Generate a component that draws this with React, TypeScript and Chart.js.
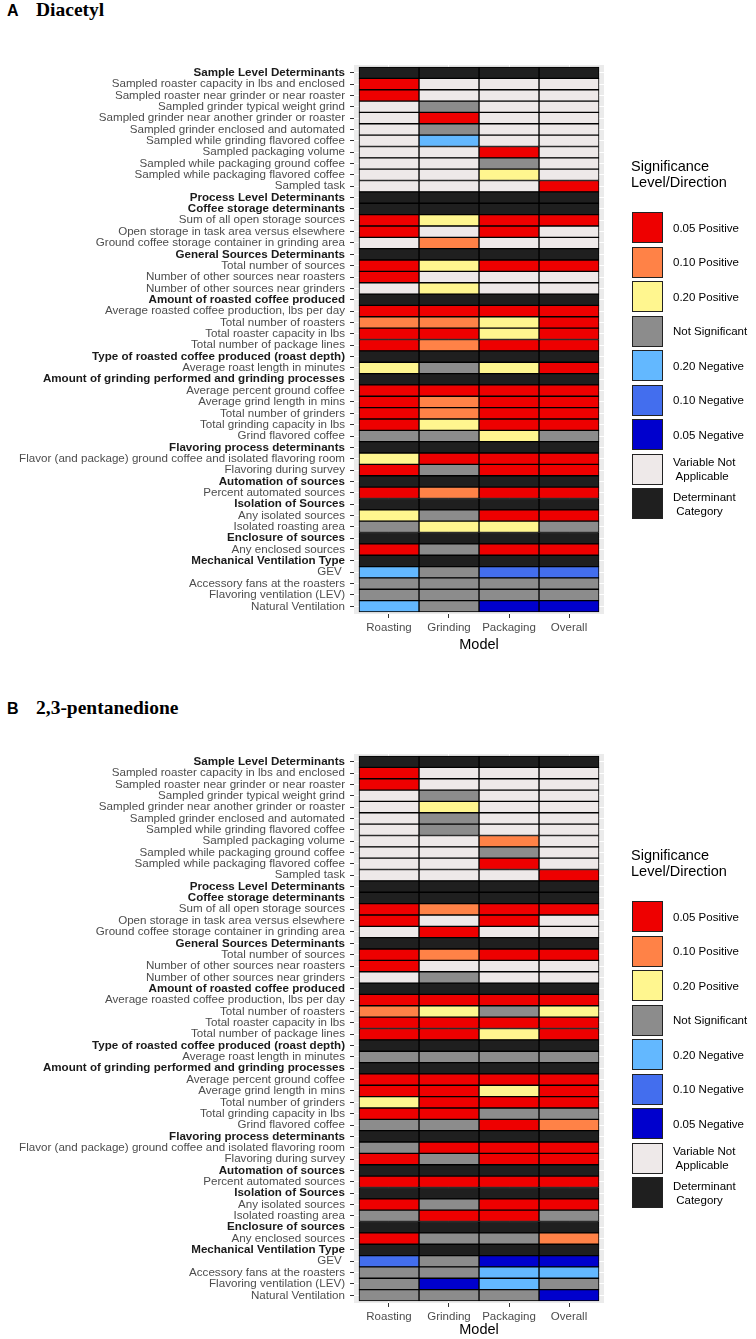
import React, { useEffect, useRef } from "react";
import { Chart, registerables } from "chart.js";

Chart.register(...registerables);

const columns = ["Roasting", "Grinding", "Packaging", "Overall"];

const rowLabels = [
  "Sample Level Determinants",
  "Sampled roaster capacity in lbs and enclosed",
  "Sampled roaster near grinder or near roaster",
  "Sampled grinder typical weight grind",
  "Sampled grinder near another grinder or roaster",
  "Sampled grinder enclosed and automated",
  "Sampled while grinding flavored coffee",
  "Sampled packaging volume",
  "Sampled while packaging ground coffee",
  "Sampled while packaging flavored coffee",
  "Sampled task",
  "Process Level Determinants",
  "Coffee storage determinants",
  "Sum of all open storage sources",
  "Open storage in task area versus elsewhere",
  "Ground coffee storage container in grinding area",
  "General Sources Determinants",
  "Total number of sources",
  "Number of other sources near roasters",
  "Number of other sources near grinders",
  "Amount of roasted coffee produced",
  "Average roasted coffee production, lbs per day",
  "Total number of roasters",
  "Total roaster capacity in lbs",
  "Total number of package lines",
  "Type of roasted coffee produced (roast depth)",
  "Average roast length in minutes",
  "Amount of grinding performed and grinding processes",
  "Average percent ground coffee",
  "Average grind length in mins",
  "Total number of grinders",
  "Total grinding capacity in lbs",
  "Grind flavored coffee",
  "Flavoring process determinants",
  "Flavor (and package) ground coffee and isolated flavoring room",
  "Flavoring during survey",
  "Automation of sources",
  "Percent automated sources",
  "Isolation of Sources",
  "Any isolated sources",
  "Isolated roasting area",
  "Enclosure of sources",
  "Any enclosed sources",
  "Mechanical Ventilation Type",
  "GEV ",
  "Accessory fans at the roasters",
  "Flavoring ventilation (LEV)",
  "Natural Ventilation",
];

// Codes: R=0.05 Pos, O=0.10 Pos, Y=0.20 Pos, G=Not Sig, L=0.20 Neg, M=0.10 Neg, B=0.05 Neg, W=Not applicable, K=Category
const diacetylRoasting = "KRRWWWWWWWWKKRRWKRRWKRORRKYKRRRRGKYRKRKYGKRKLGGL".split("");
const diacetylGrinding = "KWWGRGLWWWWKKYWOKYWYKROROKGKROOYGKRGKOKGYKGKGGGG".split("");
const diacetylPackaging = "KWWWWWWRGYWKKRRWKRWWKRYYRKYKRRRRYKRRKRKRYKRKMGGB".split("");
const diacetylOverall = "KWWWWWWWWWRKKRWWKRWWKRRRRKRKRRRRGKRRKRKRGKRKMGGB".split("");

const pentanedioneRoasting = "KRRWWWWWWWWKKRRWKRRWKRORRKGKRRYRGKGRKRKRGKRKMGGG".split("");
const pentanedioneGrinding = "KWWGYGGWWWWKKOWRKOWGKRYRRKGKRRRRGKRGKRKGRKGKGGBG".split("");
const pentanedionePackaging = "KWWWWWWOGRWKKRRWKRWWKRGRYKGKRYRGRKRRKRKRRKGKBLLG".split("");
const pentanedioneOverall = "KWWWWWWWWWRKKRWWKRWWKRYRRKGKRRRGOKRRKRKRGKOKBLGB".split("");

const levelCodes = ["R", "O", "Y", "G", "L", "M", "B", "W", "K"];
const levelLabels = [
  "0.05 Positive",
  "0.10 Positive",
  "0.20 Positive",
  "Not Significant",
  "0.20 Negative",
  "0.10 Negative",
  "0.05 Negative",
  "Variable Not\n Applicable",
  "Determinant\n Category",
];
const levelColors = [
  "#EE0000",
  "#FF8247",
  "#FFF68F",
  "#8C8C8C",
  "#63B8FF",
  "#436EEE",
  "#0000CD",
  "#EEE9E9",
  "#1F1F1F",
];

const SANS = "'Liberation Sans', Arial, Helvetica, sans-serif";
const SERIF = "'Liberation Serif', 'Times New Roman', serif";

const colorFor = (code: string) => levelColors[levelCodes.indexOf(code)];

const panelBg = {
  id: "panelBg",
  beforeDraw(chart: any) {
    const { ctx, chartArea } = chart;
    if (!chartArea) return;
    ctx.save();
    ctx.fillStyle = "#EBEBEB";
    ctx.fillRect(chartArea.left, chartArea.top, chartArea.right - chartArea.left, chartArea.bottom - chartArea.top);
    ctx.restore();
  },
};

function Heatmap(props: {
  series: string[][];
  width: number;
  height: number;
  top: number;
  padTop: number;
  xAxisHeight: number;
  titlePadBottom: number;
}) {
  const ref = useRef<HTMLCanvasElement | null>(null);
  const { series, width, height, top, padTop, xAxisHeight, titlePadBottom } = props;
  useEffect(() => {
    if (!ref.current) return;
    const isCategory = series[0].map((c) => c === "K");
    const chart = new Chart(ref.current, {
      type: "bar",
      data: {
        datasets: series.map((codes, c) => ({
          label: columns[c],
          data: codes.map((_code, i) => ({ x: [c, c + 1], y: i })),
          backgroundColor: codes.map(colorFor),
          borderColor: "#000000",
          borderWidth: 1,
          borderSkipped: false,
          grouped: false,
          barPercentage: 1,
          categoryPercentage: 1,
        })) as any,
      },
      options: {
        animation: false,
        responsive: false,
        indexAxis: "y",
        layout: { padding: { top: padTop, right: width - 604, left: 0, bottom: 0 } },
        plugins: { legend: { display: false }, tooltip: { enabled: false } },
        scales: {
          x: {
            type: "linear",
            position: "bottom",
            offset: false,
            beginAtZero: false,
            min: -0.0833,
            max: 4.0833,
            afterBuildTicks: (s: any) => {
              s.ticks = columns.map((_n, i) => ({ value: i + 0.5 }));
            },
            afterFit: (s: any) => {
              s.height = xAxisHeight;
            },
            grid: { offset: false, color: "#FFFFFF", tickColor: "#333333", tickLength: 4, lineWidth: 1 },
            border: { display: false },
            ticks: {
              callback: (v: any) => columns[Math.floor(Number(v))],
              font: { family: SANS, size: 11.5 },
              color: "#4D4D4D",
              padding: 3,
              maxRotation: 0,
              minRotation: 0,
              autoSkip: false,
            },
            title: {
              display: true,
              text: "Model",
              font: { family: SANS, size: 14.5 },
              color: "#000000",
              padding: { top: 0, bottom: titlePadBottom },
            },
          },
          y: {
            type: "linear",
            reverse: true,
            offset: false,
            min: -0.676,
            max: rowLabels.length - 1 + 0.676,
            afterBuildTicks: (s: any) => {
              s.ticks = rowLabels.map((_n, i) => ({ value: i }));
            },
            afterFit: (s: any) => {
              s.width = 354;
            },
            grid: { offset: false, color: "#FFFFFF", tickColor: "#333333", tickLength: 4, lineWidth: 1 },
            border: { display: false },
            ticks: {
              callback: (v: any) => rowLabels[Math.round(Number(v))],
              font: (ctx: any) => ({
                family: SANS,
                size: 11.6,
                weight: isCategory[ctx.index] ? "bold" : "normal",
              }),
              color: (ctx: any) => (isCategory[ctx.index] ? "#1A1A1A" : "#4D4D4D"),
              padding: 5,
              autoSkip: false,
            },
          },
        },
      } as any,
      plugins: [panelBg],
    });
    return () => chart.destroy();
  }, []);
  return (
    <canvas
      ref={ref}
      width={width}
      height={height}
      style={{ position: "absolute", left: 0, top, width, height }}
    />
  );
}

function Legend(props: { top: number }) {
  const { top } = props;
  return (
    <>
      <div
        style={{
          position: "absolute",
          left: 631,
          top: top - 8,
          fontFamily: SANS,
          fontSize: 14.5,
          lineHeight: "16px",
          color: "#000",
          whiteSpace: "pre",
        }}
      >
        {"Significance\nLevel/Direction"}
      </div>
      {levelCodes.map((code, k) => {
        const keyTop = top + 46 + k * 34.5;
        const lines = levelLabels[k].split("\n");
        return (
          <React.Fragment key={code}>
            <div
              style={{
                position: "absolute",
                left: 632,
                top: keyTop,
                width: 31,
                height: 31,
                boxSizing: "border-box",
                border: "1px solid #222",
                background: levelColors[k],
              }}
            />
            <div
              style={{
                position: "absolute",
                left: 673,
                top: keyTop + 15.5 - (lines.length * 14) / 2,
                fontFamily: SANS,
                fontSize: 11.5,
                lineHeight: "14px",
                color: "#000",
                whiteSpace: "pre",
              }}
            >
              {levelLabels[k]}
            </div>
          </React.Fragment>
        );
      })}
    </>
  );
}

function Title(props: { top: number; letter: string; name: string }) {
  return (
    <div
      style={{
        position: "absolute",
        left: 7,
        top: props.top,
        display: "flex",
        alignItems: "baseline",
        lineHeight: "20px",
        color: "#000",
      }}
    >
      <span style={{ fontFamily: SANS, fontWeight: "bold", fontSize: 16, width: 29, display: "inline-block" }}>
        {props.letter}
      </span>
      <span style={{ fontFamily: SERIF, fontWeight: "bold", fontSize: 19.5 }}>{props.name}</span>
    </div>
  );
}

export default function App() {
  return (
    <div
      style={{
        position: "absolute",
        left: 0,
        top: 0,
        width: 756,
        height: 1339,
        background: "#FFFFFF",
        overflow: "hidden",
      }}
    >
      <Title top={0} letter="A" name="Diacetyl" />
      <Heatmap
        series={[diacetylRoasting, diacetylGrinding, diacetylPackaging, diacetylOverall]}
        width={756}
        height={660}
        top={0}
        padTop={65}
        xAxisHeight={46}
        titlePadBottom={6}
      />
      <Legend top={166} />
      <Title top={698} letter="B" name="2,3-pentanedione" />
      <Heatmap
        series={[pentanedioneRoasting, pentanedioneGrinding, pentanedionePackaging, pentanedioneOverall]}
        width={756}
        height={650}
        top={689}
        padTop={65}
        xAxisHeight={36}
        titlePadBottom={0}
      />
      <Legend top={855} />
    </div>
  );
}
